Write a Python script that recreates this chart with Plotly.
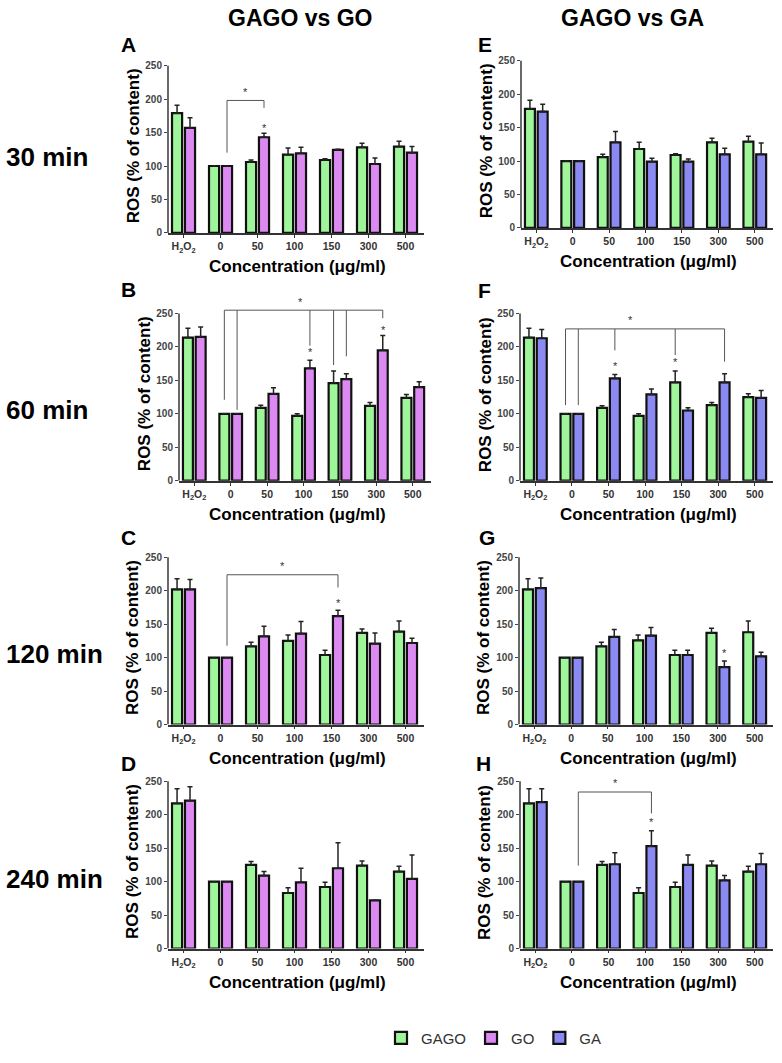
import plotly.graph_objects as go

# ---------------- data ----------------
categories = ["H2O2", "0", "50", "100", "150", "300", "500"]
tick_labels = ["H<sub>2</sub>O<sub>2</sub>", "0", "50", "100", "150", "300", "500"]
y_ticks = [0, 50, 100, 150, 200, 250]

# 30 min
A_gago = [179, 100, 106, 117, 109, 128, 129]
A_gago_err = [12, 0, 3, 10, 2, 6, 8]
A_go = [157, 100, 143, 119, 124, 103, 120]
A_go_err = [15, 0, 6, 9, 1, 9, 9]
E_gago = [178, 100, 106, 118, 109, 128, 129]
E_gago_err = [13, 0, 4, 10, 2, 6, 8]
E_ga = [174, 100, 128, 99, 99, 110, 110]
E_ga_err = [11, 0, 16, 5, 4, 9, 17]
# 60 min
B_gago = [214, 100, 109, 97, 146, 112, 124]
B_gago_err = [14, 0, 4, 3, 18, 5, 5]
B_go = [215, 100, 130, 168, 152, 195, 140]
B_go_err = [15, 0, 9, 12, 8, 22, 8]
F_gago = [214, 100, 109, 97, 147, 113, 125]
F_gago_err = [14, 0, 3, 3, 17, 4, 5]
F_ga = [213, 100, 153, 129, 105, 147, 124]
F_ga_err = [13, 0, 6, 8, 4, 13, 11]
# 120 min
C_gago = [202, 100, 117, 125, 104, 137, 139]
C_gago_err = [16, 0, 6, 9, 7, 6, 16]
C_go = [202, 100, 132, 136, 162, 121, 122]
C_go_err = [15, 0, 15, 18, 9, 16, 7]
G_gago = [202, 100, 117, 126, 104, 137, 138]
G_gago_err = [16, 0, 6, 8, 7, 7, 17]
G_ga = [204, 100, 131, 133, 104, 86, 102]
G_ga_err = [15, 0, 11, 12, 7, 9, 6]
# 240 min
D_gago = [217, 100, 125, 83, 92, 124, 115]
D_gago_err = [22, 0, 5, 8, 7, 7, 8]
D_go = [221, 100, 109, 99, 120, 72, 104]
D_go_err = [21, 0, 6, 21, 38, 0, 36]
H_gago = [217, 100, 125, 83, 92, 124, 115]
H_gago_err = [22, 0, 5, 8, 7, 7, 8]
H_ga = [219, 100, 126, 153, 125, 102, 126]
H_ga_err = [20, 0, 17, 23, 15, 7, 16]

# significance brackets: (top value, legs [(category, series index, leg bottom)], star shift in categories)
A_bracket = (198, [("0", 1, 120), ("50", 1, 187)], 0.0)
B_bracket = (255, [("0", 0, 121), ("0", 1, 106), ("100", 1, 202),
                   ("150", 0, 173), ("150", 1, 186), ("300", 1, 243)], -0.1)
C_bracket = (224, [("0", 1, 118), ("150", 1, 205)], 0.0)
F_bracket = (227, [("0", 0, 113), ("0", 1, 113), ("50", 1, 195),
                   ("150", 0, 188), ("300", 1, 178)], -0.4)
H_bracket = (234, [("0", 1, 124), ("100", 1, 202)], 0.0)
# single stars: (category, series index, value)
A_stars = [("50", 1, 157)]
B_stars = [("100", 1, 193), ("300", 1, 225)]
C_stars = [("150", 1, 182)]
F_stars = [("50", 1, 171), ("150", 0, 177)]
G_stars = [("300", 1, 107)]
H_stars = [("100", 1, 189)]

series_names = ["GAGO", "GO", "GA"]
colors = {"GAGO": "#9ef59a", "GO": "#dc8af2", "GA": "#8a8af2"}

row_labels = ["30 min", "60 min", "120 min", "240 min"]
col_titles = ["GAGO vs GO", "GAGO vs GA"]

# ---------------- layout geometry (pixels) ----------------
W, H = 782, 1063
Y_TOP = 272  # axis range top (room for brackets)
PX_PER_250 = 168

panels = [
    ("A", 0, 0, 234, 168, 424, A_gago, A_gago_err, A_go, A_go_err, "GO", A_bracket, A_stars),
    ("E", 0, 1, 229, 521, 773, E_gago, E_gago_err, E_ga, E_ga_err, "GA", None, []),
    ("B", 1, 0, 483, 179, 431, B_gago, B_gago_err, B_go, B_go_err, "GO", B_bracket, B_stars),
    ("F", 1, 1, 483, 520, 773, F_gago, F_gago_err, F_ga, F_ga_err, "GA", F_bracket, F_stars),
    ("C", 2, 0, 728, 168, 424, C_gago, C_gago_err, C_go, C_go_err, "GO", C_bracket, C_stars),
    ("G", 2, 1, 728, 519, 773, G_gago, G_gago_err, G_ga, G_ga_err, "GA", None, G_stars),
    ("D", 3, 0, 953, 168, 424, D_gago, D_gago_err, D_go, D_go_err, "GO", None, []),
    ("H", 3, 1, 953, 520, 773, H_gago, H_gago_err, H_ga, H_ga_err, "GA", H_bracket, H_stars),
]
letter_pos = {"A": (128, 45), "E": (485, 45), "B": (128, 291), "F": (485, 292),
              "C": (128, 540), "G": (487, 540), "D": (128, 767), "H": (483, 767)}

BARGAP = 0.3
OFF = (1 - BARGAP) / 4  # center offset of each bar in a 2-bar group

def px_x(p):
    return p / W

def px_y(p):
    return 1 - p / H

FONT = "Arial, Liberation Sans, sans-serif"
STAR_FONT = dict(family=FONT, size=11, color="#333333")

fig = go.Figure()
shapes = []
annotations = []
layout_axes = {}
legend_done = set()

def paper_text(xp, yp, text, size, xanchor="center", angle=0, color="black"):
    annotations.append(dict(xref="paper", yref="paper", x=px_x(xp), y=px_y(yp),
                            xanchor=xanchor, yanchor="middle", text=text, textangle=angle,
                            showarrow=False, font=dict(family=FONT, size=size, color=color)))

for i, (letter, row, col, y0, xl, xr, s1, e1, s2, e2, other, bracket, stars) in enumerate(panels):
    n = i + 1
    xa = "x" if n == 1 else f"x{n}"
    ya = "y" if n == 1 else f"y{n}"
    top_px = y0 - Y_TOP / 250 * PX_PER_250
    for name, vals, errs in (("GAGO", s1, e1), (other, s2, e2)):
        show = name not in legend_done
        legend_done.add(name)
        fig.add_trace(go.Bar(
            x=categories, y=vals, name=name, xaxis=xa, yaxis=ya,
            marker=dict(color=colors[name], line=dict(color="#111111", width=2.2)),
            error_y=dict(type="data", array=errs, arrayminus=[0] * len(errs), symmetric=False,
                         color="#222222", thickness=1.5, width=2.5),
            showlegend=show, legendrank=series_names.index(name) + 1,
        ))
    layout_axes["xaxis" if n == 1 else f"xaxis{n}"] = dict(
        domain=[px_x(xl), px_x(xr)], anchor=ya, type="category",
        categoryorder="array", categoryarray=categories,
        tickvals=categories, ticktext=tick_labels, range=[-0.42, 6.5],
        showline=True, linecolor="#333333", linewidth=1.6,
        ticks="outside", ticklen=3, tickcolor="#333333", showgrid=False,
        tickfont=dict(family=FONT, size=10.5, color="#333333", weight="bold"),
    )
    layout_axes["yaxis" if n == 1 else f"yaxis{n}"] = dict(
        domain=[px_y(y0), px_y(top_px)], anchor=xa, range=[0, Y_TOP],
        tickvals=y_ticks, showline=False, showgrid=False, zeroline=False,
        ticks="outside", ticklen=3, tickcolor="#444444",
        tickfont=dict(family=FONT, size=10, color="#444444", weight="bold"),
    )
    # y axis line only from 0 to 250
    shapes.append(dict(type="line", xref=f"{xa} domain", yref=ya, x0=0, x1=0,
                       y0=0, y1=y_ticks[-1], line=dict(color="#444444", width=1.6)))
    # brackets
    if bracket:
        topv, legs, star_shift = bracket
        xs = []
        for cat, si, bottom in legs:
            xp = categories.index(cat) + (OFF if si == 1 else -OFF)
            xs.append(xp)
            shapes.append(dict(type="line", xref=xa, yref=ya, x0=xp, x1=xp, y0=bottom, y1=topv,
                               line=dict(color="#555555", width=1)))
        shapes.append(dict(type="line", xref=xa, yref=ya, x0=min(xs), x1=max(xs), y0=topv, y1=topv,
                           line=dict(color="#555555", width=1)))
        annotations.append(dict(xref=xa, yref=ya,
                                x=(min(xs) + max(xs)) / 2 + star_shift + 0.013, y=topv + 1,
                                text="*", showarrow=False, xanchor="center", yanchor="bottom",
                                font=STAR_FONT))
    for cat, si, v in stars:
        xp = categories.index(cat) + (OFF if si == 1 else -OFF) + 0.013
        annotations.append(dict(xref=xa, yref=ya, x=xp, y=v, text="*", showarrow=False,
                                xanchor="center", yanchor="middle", font=STAR_FONT))
    # panel letter
    lx, ly = letter_pos[letter]
    paper_text(lx, ly, f"<b>{letter}</b>", 21)
    # y axis title
    paper_text(xl - 35, y0 - PX_PER_250 / 2 - 3, "<b>ROS (% of content)</b>", 17, angle=-90)
    # x axis title
    paper_text(297 if col == 0 else 648, y0 + 34, "<b>Concentration (\u03bcg/ml)</b>", 17)

# row labels
for lab, ypx in zip(row_labels, [158, 412, 657, 883]):
    paper_text(4, ypx, f"<b>{lab}</b>", 26, xanchor="left")
# column titles
for t, xpx in zip(col_titles, [300, 632]):
    paper_text(xpx, 18, f"<b>{t}</b>", 23)

fig.update_layout(
    width=W, height=H, autosize=False,
    margin=dict(l=0, r=0, t=0, b=0),
    paper_bgcolor="white", plot_bgcolor="white",
    barmode="group", bargap=BARGAP, bargroupgap=0.22,
    shapes=shapes, annotations=annotations,
    legend=dict(orientation="h", x=px_x(381), y=px_y(1043), xanchor="left", yanchor="middle",
                font=dict(family=FONT, size=15, color="#333333"), itemwidth=30,
                traceorder="normal"),
    **layout_axes,
)

fig.write_html("out.html", config={"displayModeBar": False},
               post_script="document.body.style.margin='0px';")
